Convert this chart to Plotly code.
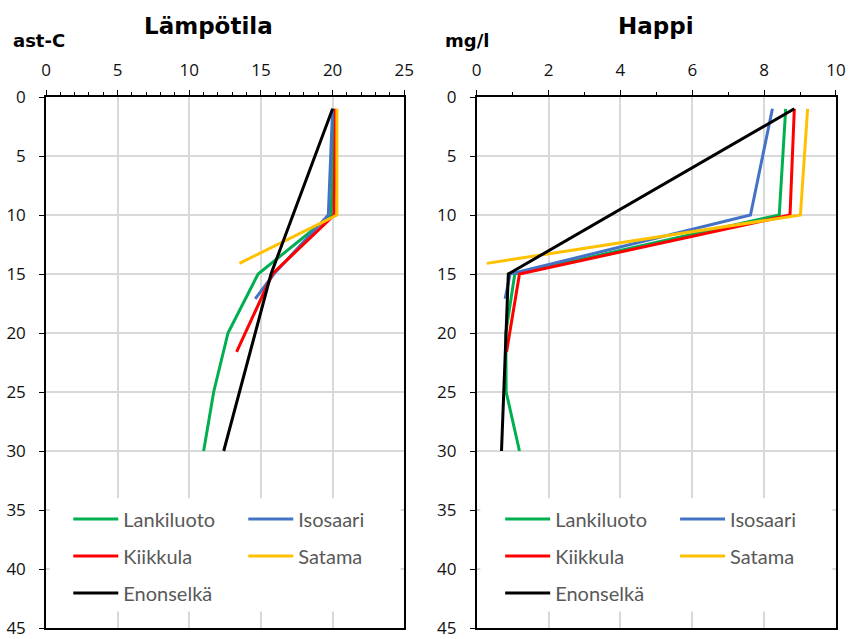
import plotly.graph_objects as go

# Station names and line colours
stations = ["Lankiluoto", "Isosaari", "Kiikkula", "Satama", "Enonselkä"]
colors = ["#00b050", "#4472c4", "#ff0000", "#ffc000", "#000000"]

# Sampling depths (m) per station
depth_lankiluoto = [1, 10, 15, 20, 25, 30]
depth_isosaari = [1, 10, 15, 17.1]
depth_kiikkula = [1, 10, 15, 21.6]
depth_satama = [1, 10, 14.1]
depth_enonselka = [1, 15, 30]

# Temperature (ast-C)
temp_lankiluoto = [20.1, 19.9, 14.8, 12.7, 11.7, 11.0]
temp_isosaari = [20.0, 19.7, 15.9, 14.6]
temp_kiikkula = [20.2, 20.1, 15.8, 13.3]
temp_satama = [20.3, 20.3, 13.5]
temp_enonselka = [20.0, 15.7, 12.4]

# Dissolved oxygen (mg/l)
o2_lankiluoto = [8.60, 8.42, 1.06, 0.81, 0.82, 1.19]
o2_isosaari = [8.23, 7.62, 0.93, 0.79]
o2_kiikkula = [8.84, 8.72, 1.19, 0.83]
o2_satama = [9.21, 9.01, 0.28]
o2_enonselka = [8.84, 0.88, 0.69]

depths = [depth_lankiluoto, depth_isosaari, depth_kiikkula, depth_satama, depth_enonselka]
temps = [temp_lankiluoto, temp_isosaari, temp_kiikkula, temp_satama, temp_enonselka]
oxygen = [o2_lankiluoto, o2_isosaari, o2_kiikkula, o2_satama, o2_enonselka]

# Two legend columns per panel: Lankiluoto/Kiikkula/Enonselkä left, Isosaari/Satama right
left_col = {"Lankiluoto", "Kiikkula", "Enonselkä"}

fig = go.Figure()
for name, col, d, t in zip(stations, colors, depths, temps):
    fig.add_trace(go.Scatter(
        x=t, y=d, mode="lines", name=name,
        line=dict(color=col, width=3),
        xaxis="x", yaxis="y",
        legend="legend" if name in left_col else "legend2",
        legendgroup="t_" + name,
    ))
for name, col, d, o in zip(stations, colors, depths, oxygen):
    fig.add_trace(go.Scatter(
        x=o, y=d, mode="lines", name=name,
        line=dict(color=col, width=3),
        xaxis="x2", yaxis="y2",
        legend="legend3" if name in left_col else "legend4",
        legendgroup="o_" + name,
    ))

tick_font = dict(family="Open Sans", size=17, color="#111111")
grid_col = "#d9d9d9"


def xaxis(rng, dtick, domain, anchor):
    return dict(
        domain=domain, anchor=anchor, side="top", range=rng,
        tickmode="linear", tick0=0, dtick=dtick,
        showgrid=True, gridcolor=grid_col, gridwidth=1.5,
        showline=True, linecolor="black", linewidth=1.5, mirror=True,
        ticks="outside", ticklen=5, tickcolor="black", tickwidth=1.3,
        minor=dict(dtick=1, ticks="outside", ticklen=3, tickcolor="black",
                   tickwidth=1, showgrid=False),
        tickfont=tick_font, ticklabelstandoff=7, zeroline=False,
        automargin=False, fixedrange=True,
    )


def yaxis(anchor):
    return dict(
        domain=[0, 1], anchor=anchor, range=[45, 0],
        tickmode="linear", tick0=0, dtick=5,
        showgrid=True, gridcolor=grid_col, gridwidth=1.5,
        showline=True, linecolor="black", linewidth=1.5, mirror=True,
        ticks="outside", ticklen=5, tickcolor="black", tickwidth=1.3,
        tickfont=tick_font, ticklabelstandoff=10, zeroline=False,
        automargin=False, fixedrange=True,
    )


legend_font = dict(family="Lato", size=20, color="#595959")


def legend(x):
    return dict(
        x=x, y=0.242, xanchor="left", yanchor="top",
        xref="paper", yref="paper",
        bgcolor="rgba(0,0,0,0)", borderwidth=0,
        font=legend_font, itemwidth=45,
        traceorder="grouped", tracegroupgap=8,
    )


fig.update_layout(
    width=852, height=639,
    margin=dict(l=46, r=16, t=97, b=11, autoexpand=False),
    paper_bgcolor="white", plot_bgcolor="white",
    xaxis=xaxis([0, 25], 5, [0, 0.4535], "y"),
    yaxis=yaxis("x"),
    xaxis2=xaxis([0, 10], 2, [0.5452, 1], "y2"),
    yaxis2=yaxis("x2"),
    legend=legend(0.0282),
    legend2=legend(0.2497),
    legend3=legend(0.5749),
    legend4=legend(0.7963),
    showlegend=True,
)

# White panel behind each legend block, drawn between gridlines and traces
fig.add_shape(type="rect", xref="x", yref="y", x0=0.25, x1=24.75,
              y0=34.0, y1=43.6, fillcolor="white",
              line=dict(width=0), layer="between")
fig.add_shape(type="rect", xref="x2", yref="y2", x0=0.1, x1=9.9,
              y0=34.0, y1=43.6, fillcolor="white",
              line=dict(width=0), layer="between")

title_font = dict(family="DejaVu Sans", size=23, color="black", weight="bold")
unit_font = dict(family="DejaVu Sans", size=18, color="black", weight="bold")
common = dict(xref="paper", yref="paper", showarrow=False,
              xanchor="center", yanchor="middle")
fig.add_annotation(text="Lämpötila", x=0.2054, y=1.134, font=title_font, **common)
fig.add_annotation(text="Happi", x=0.7722, y=1.134, font=title_font, **common)
fig.add_annotation(text="ast-C", x=-0.0089, y=1.107, font=unit_font, **common)
fig.add_annotation(text="mg/l", x=0.5329, y=1.107, font=unit_font, **common)

fig.write_html("out.html")
